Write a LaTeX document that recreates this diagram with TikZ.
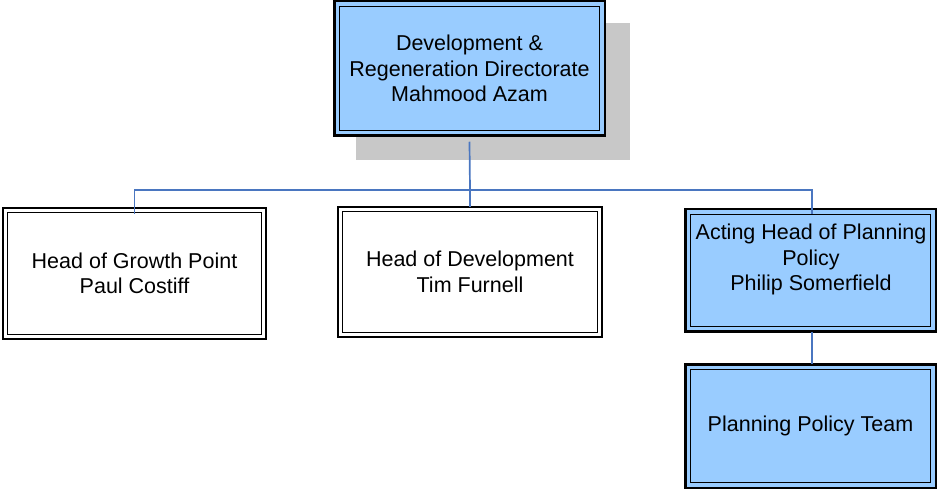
\documentclass[tikz,border=0pt]{standalone}
\usepackage{fontspec}
\setmainfont{Liberation Sans}
\definecolor{boxblue}{HTML}{99CCFF}
\definecolor{connblue}{HTML}{4A76C0}
\definecolor{shadowgray}{HTML}{C8C8C8}
\begin{document}
\begin{tikzpicture}[x=1pt,y=-1pt,
  box/.style={draw=black,outer sep=0pt,inner sep=0pt,align=center,font=\fontsize{21.5}{25.5}\selectfont},
  bluebox/.style={box,fill=boxblue,line width=2.5pt},
  whitebox/.style={box,fill=white,line width=1.8pt},
  innerline/.style={draw=black,line width=1.3pt},
  txt/.style={align=center,inner sep=0pt,font=\fontsize{21.5}{25.5}\selectfont},
  conn/.style={draw=connblue,line width=1.7pt}]
\useasboundingbox (0,0) rectangle (938,489);
% shadow
\fill[shadowgray] (356,23) rectangle (630,160);
% boxes
\node[bluebox,minimum width=270.5pt,minimum height=134.5pt] (dir) at (469.5,68.5)
  {Development \&\\Regeneration Directorate\\Mahmood Azam};
\node[whitebox,minimum width=263.2pt,minimum height=131.2pt] (gp) at (134.5,273.5)
  {Head of Growth Point\\Paul Costiff};
\node[whitebox,minimum width=264.2pt,minimum height=130.2pt] (dev) at (470,272)
  {Head of Development\\Tim Furnell};
\node[bluebox,minimum width=250.5pt,minimum height=122.5pt] (ahp) at (810.5,270.5) {};
\node[txt] (ahptext) at (811,259.5) {Acting Head of Planning\\Policy\\Philip Somerfield};
\node[bluebox,minimum width=250.5pt,minimum height=123.5pt] (ppt) at (810.5,426)
  {Planning Policy Team};
% inner lines
\foreach \n/\d in {dir/5pt,ahp/5pt,ppt/5pt,gp/4.5pt,dev/4.5pt}{
  \draw[innerline] ([xshift=\d,yshift=-\d]\n.north west) rectangle ([xshift=-\d,yshift=\d]\n.south east);
}
% connectors
\coordinate (bus) at (470,190);
\coordinate (rdrop) at (812,190);
\coordinate (ahptop) at ([yshift=-5pt]ahp.north);
\draw[conn] ([yshift=-6pt]dir.south) -- (bus);
\draw[conn] (bus) -| ([yshift=-6pt]gp.north);
\draw[conn] (bus) -- (dev.north);
\draw[conn] (bus) -- (rdrop) -- (rdrop |- ahptop);
\draw[conn] (rdrop |- ahp.south) -- (rdrop |- ppt.north);
\end{tikzpicture}
\end{document}
